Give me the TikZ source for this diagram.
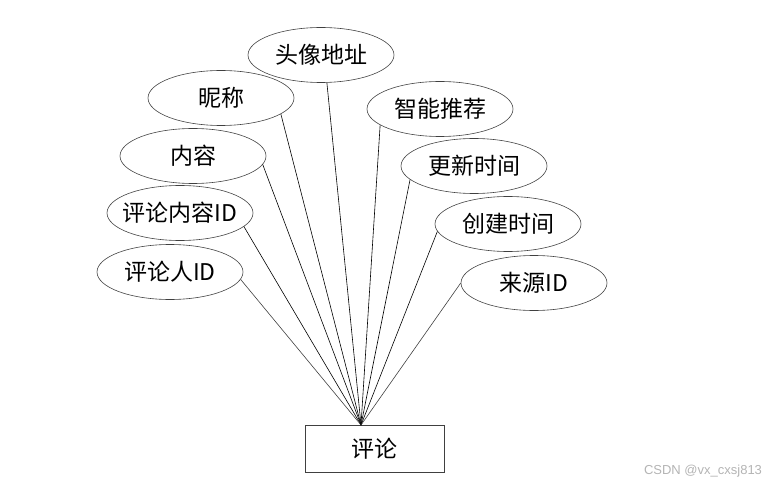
\documentclass[tikz,border=0pt]{standalone}
\usepackage{fontspec}
\setmainfont{Noto Sans CJK SC}
\newfontfamily\wmfont{Liberation Sans}
\usetikzlibrary{shapes.geometric}
\definecolor{edge}{HTML}{404040}
\definecolor{mark}{HTML}{B4B4B4}

\begin{document}
\begin{tikzpicture}[x=1pt,y=-1pt,
  attr/.style={ellipse,draw=edge,line width=0.6pt,minimum width=146pt,
    minimum height=55pt,inner sep=0pt,font=\fontsize{23}{26}\selectfont},
  ent/.style={draw=edge,line width=0.7pt,minimum width=139pt,minimum height=47pt,
    inner sep=0pt,font=\fontsize{23}{26}\selectfont},
  link/.style={line width=0.6pt,black}]
\useasboundingbox (0,0) rectangle (775,486);
% attributes, left side
\node[attr] (avatar) at (321,55) {头像地址};
\node[attr] (nick) at (221,98) {昵称};
\node[attr] (content) at (193,156) {内容};
\node[attr] (cid) at (180,213) {\makebox[0pt]{评论内容ID}};
\node[attr] (uid) at (170,272) {评论人ID};
% attributes, right side
\node[attr] (rec) at (440,109) {智能推荐};
\node[attr] (upd) at (474,166) {更新时间};
\node[attr] (crt) at (508,224) {创建时间};
\node[attr] (src) at (534,283) {来源ID};
% entity
\node[ent] (comment) at (374.5,448.5) {评论};
\coordinate (hub) at (361,425);
\draw[link] (avatar.-78) -- (hub);
\draw[link] (nick.-15) -- (hub);
\draw[link] (content.-7) -- (hub);
\draw[link] (cid.-12) -- (hub);
\draw[link,edge] (uid.-6) -- (hub);
\draw[link] (rec.195) -- (hub);
\draw[link] (upd.192) -- (hub);
\draw[link] (crt.186) -- (hub);
\draw[link,edge] (src.180) -- (hub);
\node[font=\wmfont\fontsize{13}{15}\selectfont,text=mark] (wm) at (703,471) {CSDN @vx\_cxsj813};
\end{tikzpicture}
\end{document}
